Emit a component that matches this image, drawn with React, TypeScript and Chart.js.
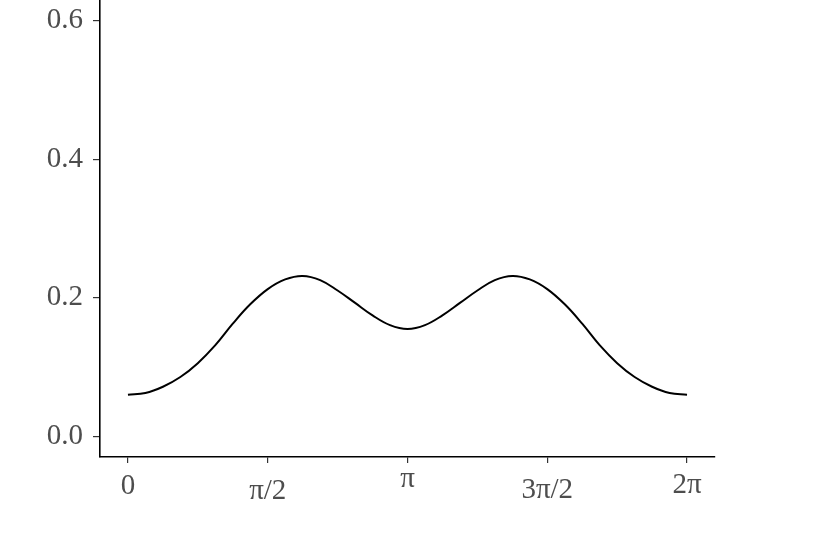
import React, { useEffect, useRef } from "react";
import { Chart, registerables } from "chart.js";

Chart.register(...registerables);

// Sample positions (radians) and curve values
const theta = [
  0, 0.196, 0.393, 0.589, 0.785, 0.982, 1.178, 1.374, 1.571, 1.767, 1.963,
  2.16, 2.356, 2.553, 2.749, 2.945, 3.142, 3.338, 3.534, 3.731, 3.927, 4.123,
  4.32, 4.516, 4.712, 4.909, 5.105, 5.301, 5.498, 5.694, 5.89, 6.087, 6.283,
];
const density = [
  0.06, 0.0625, 0.0715, 0.0855, 0.1055, 0.1315, 0.1625, 0.1905, 0.2125,
  0.2265, 0.2315, 0.2255, 0.2105, 0.1925, 0.1745, 0.1605, 0.155, 0.1605,
  0.1745, 0.1925, 0.2105, 0.2255, 0.2315, 0.2265, 0.2125, 0.1905, 0.1625,
  0.1315, 0.1055, 0.0855, 0.0715, 0.0625, 0.06,
];

const xTickValues = [0, Math.PI / 2, Math.PI, (3 * Math.PI) / 2, 2 * Math.PI];
const xTickLabels = ["0", "π/2", "π", "3π/2", "2π"];
const yTickValues = [0, 0.2, 0.4, 0.6];

const X_MIN = -0.05 * 2 * Math.PI;
const X_MAX = 2 * Math.PI * 1.05;
const Y_MIN = -0.03;
const Y_MAX = 0.63;

const FONT = '"Liberation Serif", "Times New Roman", serif';
const TEXT_COLOR = "#4d4d4d";
// vertical baseline offsets of each x label below the axis line (plotmath style)
const xLabelOffsets = [37, 42, 30, 41, 36];

const xLabelPlugin = {
  id: "xLabelPlugin",
  afterDraw(chart: any) {
    const xs = chart.scales.x;
    const ctx = chart.ctx;
    ctx.save();
    ctx.font = `29px ${FONT}`;
    ctx.fillStyle = TEXT_COLOR;
    ctx.textAlign = "center";
    ctx.textBaseline = "alphabetic";
    const base = chart.chartArea.bottom;
    xTickValues.forEach((v, i) => {
      const px = xs.getPixelForValue(v);
      ctx.fillText(xTickLabels[i], px, base + xLabelOffsets[i]);
    });
    ctx.restore();
  },
};

export default function App() {
  const ref = useRef<HTMLCanvasElement | null>(null);

  useEffect(() => {
    if (!ref.current) return;
    const chart = new Chart(ref.current, {
      type: "line",
      data: {
        datasets: [
          {
            data: theta.map((t, i) => ({ x: t, y: density[i] })),
            borderColor: "#000000",
            borderWidth: 2,
            pointRadius: 0,
            tension: 0.4,
            fill: false,
          },
        ],
      },
      options: {
        animation: false,
        responsive: true,
        maintainAspectRatio: false,
        layout: { padding: { top: 0, right: 115, bottom: 0, left: 0 } },
        plugins: {
          legend: { display: false },
          tooltip: { enabled: false },
        },
        scales: {
          x: {
            type: "linear",
            min: X_MIN,
            max: X_MAX,
            afterBuildTicks: (scale: any) => {
              scale.ticks = xTickValues.map((v) => ({ value: v }));
            },
            afterFit: (scale: any) => {
              scale.height = 97;
              scale.paddingLeft = 0;
              scale.paddingRight = 0;
            },
            ticks: {
              color: "rgba(0,0,0,0)",
              font: { family: FONT, size: 29 },
              maxRotation: 0,
              autoSkip: false,
              callback: (v: any, i: number) => xTickLabels[i] ?? "",
            },
            grid: {
              display: true,
              drawOnChartArea: false,
              drawTicks: true,
              tickLength: 6,
              color: "#333333",
              lineWidth: 1.2,
            },
            border: { display: true, color: "#000000", width: 1.6 },
          },
          y: {
            type: "linear",
            min: Y_MIN,
            max: Y_MAX,
            afterBuildTicks: (scale: any) => {
              scale.ticks = yTickValues.map((v) => ({ value: v }));
            },
            afterFit: (scale: any) => {
              scale.width = 100;
              scale.paddingTop = 0;
              scale.paddingBottom = 0;
            },
            ticks: {
              color: TEXT_COLOR,
              font: { family: FONT, size: 29 },
              padding: 10,
              autoSkip: false,
              callback: (v: any) => Number(v).toFixed(1),
            },
            grid: {
              display: true,
              drawOnChartArea: false,
              drawTicks: true,
              tickLength: 7,
              color: "#333333",
              lineWidth: 1.2,
            },
            border: { display: true, color: "#000000", width: 1.6 },
          },
        },
      },
      plugins: [xLabelPlugin],
    });
    return () => chart.destroy();
  }, []);

  return (
    <div
      style={{
        position: "absolute",
        left: 0,
        top: 0,
        width: 830,
        height: 554,
        background: "#ffffff",
      }}
    >
      <canvas ref={ref} />
    </div>
  );
}
